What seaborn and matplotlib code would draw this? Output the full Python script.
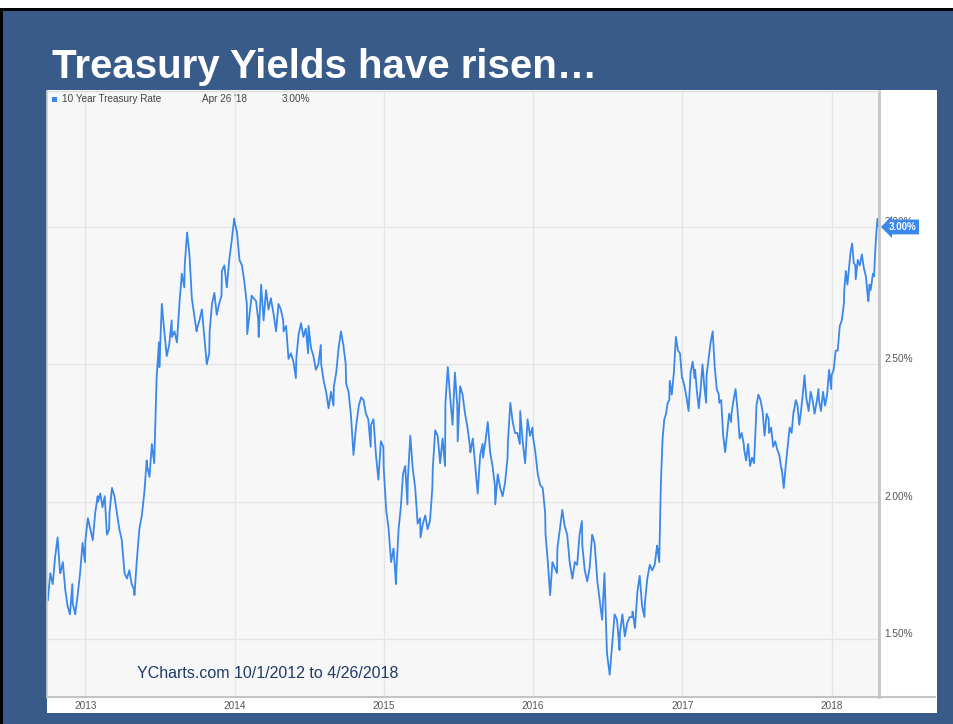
import numpy as np
import pandas as pd
import matplotlib
matplotlib.use("Agg")
import matplotlib.pyplot as plt
import matplotlib.transforms as mtransforms
from matplotlib.patches import Rectangle
from matplotlib.lines import Line2D
import seaborn as sns

# 10-year Treasury rate (%), readings per month, Oct 2012 .. Apr 26 2018
rates_2012 = [  # Oct .. Dec
    [1.64, 1.74, 1.70, 1.80, 1.87, 1.74],
    [1.74, 1.78, 1.68, 1.62, 1.59, 1.70],
    [1.63, 1.59, 1.66, 1.74, 1.85, 1.78],
]
rates_2013 = [
    [1.86, 1.94, 1.90, 1.86, 1.96, 2.02],
    [2.00, 2.03, 1.98, 2.02, 1.88, 1.90],
    [1.96, 2.05, 2.02, 1.96, 1.90, 1.86],
    [1.84, 1.74, 1.72, 1.75, 1.70, 1.68],
    [1.66, 1.79, 1.90, 1.95, 2.03, 2.15],
    [2.13, 2.09, 2.21, 2.14, 2.45, 2.58],
    [2.49, 2.72, 2.62, 2.53, 2.57, 2.66],
    [2.60, 2.62, 2.58, 2.72, 2.83, 2.78],
    [2.86, 2.98, 2.90, 2.74, 2.68, 2.62],
    [2.63, 2.66, 2.70, 2.60, 2.50, 2.54],
    [2.62, 2.72, 2.76, 2.68, 2.72, 2.75],
    [2.84, 2.86, 2.78, 2.88, 2.95, 3.03],
]
rates_2014 = [
    [3.02, 2.98, 2.88, 2.86, 2.80, 2.72],
    [2.61, 2.68, 2.75, 2.74, 2.73, 2.66],
    [2.60, 2.79, 2.66, 2.77, 2.70, 2.74],
    [2.73, 2.68, 2.62, 2.72, 2.70, 2.66],
    [2.62, 2.64, 2.52, 2.54, 2.51, 2.45],
    [2.52, 2.61, 2.65, 2.60, 2.63, 2.54],
    [2.64, 2.56, 2.53, 2.48, 2.50, 2.57],
    [2.50, 2.44, 2.40, 2.34, 2.40, 2.35],
    [2.42, 2.47, 2.56, 2.62, 2.57, 2.50],
    [2.43, 2.40, 2.31, 2.17, 2.27, 2.34],
    [2.35, 2.38, 2.37, 2.32, 2.30, 2.20],
    [2.28, 2.30, 2.17, 2.08, 2.22, 2.20],
]
rates_2015 = [
    [2.12, 1.97, 1.90, 1.78, 1.83, 1.70],
    [1.75, 1.90, 1.98, 2.10, 2.13, 1.99],
    [2.08, 2.24, 2.12, 2.05, 1.92, 1.94],
    [1.87, 1.92, 1.95, 1.90, 1.93, 2.05],
    [2.12, 2.26, 2.24, 2.14, 2.23, 2.13],
    [2.36, 2.49, 2.38, 2.28, 2.47, 2.35],
    [2.22, 2.42, 2.39, 2.32, 2.27, 2.20],
    [2.18, 2.23, 2.13, 2.03, 2.17, 2.21],
    [2.16, 2.22, 2.29, 2.18, 2.13, 2.06],
    [1.99, 2.10, 2.05, 2.02, 2.07, 2.16],
    [2.22, 2.36, 2.29, 2.25, 2.25, 2.21],
    [2.33, 2.22, 2.14, 2.30, 2.24, 2.27],
]
rates_2016 = [
    [2.24, 2.18, 2.10, 2.06, 2.05, 1.96],
    [1.88, 1.78, 1.66, 1.78, 1.76, 1.74],
    [1.83, 1.90, 1.97, 1.91, 1.88, 1.78],
    [1.77, 1.72, 1.78, 1.77, 1.88, 1.93],
    [1.84, 1.75, 1.71, 1.76, 1.88, 1.85],
    [1.83, 1.71, 1.64, 1.57, 1.74, 1.46],
    [1.44, 1.37, 1.48, 1.59, 1.57, 1.46],
    [1.52, 1.59, 1.51, 1.56, 1.58, 1.58],
    [1.60, 1.54, 1.67, 1.73, 1.62, 1.58],
    [1.63, 1.72, 1.77, 1.75, 1.77, 1.84],
    [1.83, 1.78, 2.07, 2.23, 2.30, 2.32, 2.36, 2.37],
    [2.44, 2.39, 2.47, 2.60, 2.55, 2.54, 2.45],
]
rates_2017 = [
    [2.45, 2.42, 2.38, 2.33, 2.47, 2.51, 2.45],
    [2.48, 2.40, 2.34, 2.41, 2.50, 2.42, 2.36],
    [2.46, 2.52, 2.58, 2.62, 2.49, 2.41, 2.39],
    [2.36, 2.37, 2.24, 2.18, 2.25, 2.32, 2.29],
    [2.32, 2.37, 2.41, 2.33, 2.23, 2.25, 2.21],
    [2.19, 2.15, 2.21, 2.13, 2.16, 2.14, 2.30],
    [2.35, 2.39, 2.37, 2.33, 2.24, 2.32, 2.30],
    [2.25, 2.27, 2.20, 2.22, 2.19, 2.17, 2.12],
    [2.12, 2.05, 2.13, 2.20, 2.27, 2.25, 2.33],
    [2.33, 2.37, 2.35, 2.28, 2.33, 2.39, 2.46, 2.38],
    [2.37, 2.33, 2.40, 2.37, 2.32, 2.36, 2.41],
    [2.37, 2.33, 2.40, 2.35, 2.39, 2.48, 2.41],
]
rates_2018 = [  # Jan .. Apr 26
    [2.46, 2.48, 2.55, 2.55, 2.64, 2.66, 2.72],
    [2.77, 2.84, 2.79, 2.85, 2.91, 2.94, 2.87, 2.86],
    [2.81, 2.88, 2.86, 2.90, 2.85, 2.82, 2.74],
    [2.73, 2.79, 2.77, 2.80, 2.83, 2.82, 2.91, 2.98, 3.03, 3.00],
]

series_name = "10 Year Treasury Rate"
last_date_label = "Apr 26 '18"
last_value = 3.00
year_ticks = [2013, 2014, 2015, 2016, 2017, 2018]
rate_ticks = [1.50, 2.00, 2.50, 3.00]
title = "Treasury Yields have risen…"
source_note = "YCharts.com 10/1/2012 to 4/26/2018"
END_DATE = pd.Timestamp("2018-04-26")


def monthly_points(year, first_month, months, last_day=None):
    """Spread each month's readings evenly across that month."""
    dates, vals = [], []
    for i, readings in enumerate(months):
        start = pd.Timestamp(year, first_month + i, 1)
        end = start + pd.offsets.MonthEnd(0)
        if last_day is not None and i == len(months) - 1:
            end = last_day
        dates.extend(pd.date_range(start, end, periods=len(readings)))
        vals.extend(readings)
    return dates, vals


frames = []
for yr, first, months, last in [
    (2012, 10, rates_2012, None),
    (2013, 1, rates_2013, None),
    (2014, 1, rates_2014, None),
    (2015, 1, rates_2015, None),
    (2016, 1, rates_2016, None),
    (2017, 1, rates_2017, None),
    (2018, 1, rates_2018, END_DATE),
]:
    d, v = monthly_points(yr, first, months, last)
    frames.append(pd.DataFrame({"date": d, "rate": v}))
df = pd.concat(frames, ignore_index=True)

# ---- styling ----
SLIDE = "#385B89"
LINE = "#3A88EA"
GRID = "#E6E6E6"
AXIS = "#C4C4C4"
TXT = "#555555"

sns.set_theme(style="white")
plt.rcParams["font.family"] = ["Liberation Sans", "DejaVu Sans"]

W, H = 954, 724
fig = plt.figure(figsize=(W / 100, H / 100), dpi=100, facecolor="white")


def fx(px):
    return px / W


def fy(py):
    return 1 - py / H


# slide frame: black rule on top/left, blue slide body
fig.patches.append(Rectangle((0, 0), 1, fy(10), transform=fig.transFigure,
                             facecolor=SLIDE, edgecolor="none", zorder=-3))
fig.patches.append(Rectangle((0, fy(11)), 1, fy(8) - fy(11), transform=fig.transFigure,
                             facecolor="black", edgecolor="none", zorder=-3))
fig.patches.append(Rectangle((0, 0), fx(3), fy(8), transform=fig.transFigure,
                             facecolor="black", edgecolor="none", zorder=-3))
# white chart card
fig.patches.append(Rectangle((fx(47), fy(713)), fx(937) - fx(47), fy(90) - fy(713),
                             transform=fig.transFigure, facecolor="white",
                             edgecolor="none", zorder=-2))

fig.text(fx(52), fy(78), title, color="white", fontsize=29, fontweight="bold",
         ha="left", va="baseline")

ax = fig.add_axes([fx(47), fy(697), fx(879) - fx(47), fy(91) - fy(697)])
ax.set_zorder(1)
ax.set_facecolor("#F7F7F7")

sns.lineplot(data=df, x="date", y="rate", ax=ax, color=LINE, linewidth=1.3,
             estimator=None, legend=False)

ax.set_xlim(pd.Timestamp("2012-09-29"), pd.Timestamp("2018-04-27"))
ax.set_ylim(1.289, 3.495)
ax.set_xlabel("")
ax.set_ylabel("")

ax.set_axisbelow(True)
ax.grid(True, color=GRID, linewidth=1)

ax.set_xticks([pd.Timestamp(f"{y}-01-01") for y in year_ticks])
ax.set_xticklabels([str(y) for y in year_ticks])
ax.tick_params(axis="x", length=0, pad=3, labelsize=7.2, labelcolor=TXT)

ax.yaxis.tick_right()
ax.set_yticks(rate_ticks)
ax.set_yticklabels([f"{v:.2f}%" for v in rate_ticks])
ax.tick_params(axis="y", length=0, pad=4, labelsize=7.2, labelcolor=TXT)
for lbl in ax.get_yticklabels():
    lbl.set_verticalalignment("bottom")

for side, col, lw in [("left", "#CFCFCF", 1.2), ("top", "#DADADA", 1.0),
                      ("right", AXIS, 2.0), ("bottom", AXIS, 1.5)]:
    ax.spines[side].set_visible(True)
    ax.spines[side].set_color(col)
    ax.spines[side].set_linewidth(lw)

# bottom rule continues under the value column
fig.add_artist(Line2D([fx(879), fx(935)], [fy(697), fy(697)], color=AXIS,
                      linewidth=1.5, transform=fig.transFigure))

# last-value flag on the right axis
flag_tr = mtransforms.offset_copy(
    mtransforms.blended_transform_factory(ax.transAxes, ax.transData),
    fig=fig, x=10, y=0, units="dots")
ax.text(1.0, last_value, f"{last_value:.2f}%", transform=flag_tr, ha="left", va="center",
        fontsize=7, fontweight="bold", color="white", clip_on=False, zorder=5,
        bbox=dict(boxstyle="larrow,pad=0.25", facecolor=LINE, edgecolor="none"))

# legend row
fig.patches.append(Rectangle((fx(52.5), fy(102)), fx(4.5), fy(97.5) - fy(102),
                             transform=fig.transFigure, facecolor=LINE,
                             edgecolor="none", zorder=3))
fig.text(fx(62.5), fy(99.5), series_name, fontsize=7.2, color="#444444", va="center", zorder=4)
fig.text(fx(202), fy(99.5), last_date_label, fontsize=7.2, color="#444444", va="center", zorder=4)
fig.text(fx(282), fy(99.5), f"{last_value:.2f}%", fontsize=7.2, color="#444444",
         va="center", zorder=4)

fig.text(fx(137), fy(678), source_note, fontsize=11.5, color="#1F3B66",
         ha="left", va="baseline", zorder=4)

fig.savefig("out.png", dpi=100, facecolor=fig.get_facecolor())
